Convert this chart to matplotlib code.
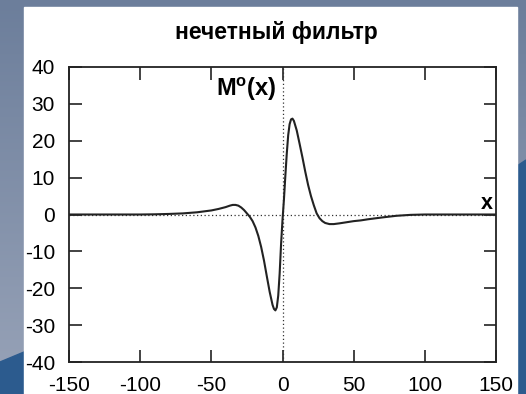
import matplotlib
matplotlib.use("Agg")
import matplotlib.pyplot as plt
from matplotlib.patches import Rectangle, Polygon
import numpy as np

plt.rcParams["axes.unicode_minus"] = False
plt.rcParams["mathtext.fontset"] = "custom"
plt.rcParams["mathtext.rm"] = "Liberation Sans"
plt.rcParams["mathtext.bf"] = "Liberation Sans:bold"

# values
x_vals = [-150, -120, -100, -90, -80, -70, -60, -50, -45, -40, -37, -35, -33, -31,
          -29, -27, -25, -23, -21, -19, -17, -15, -13, -11, -9, -7, -6, -5, -4,
          -3, -2, -1, 0, 1, 2, 3, 4, 5, 6, 7, 8, 10, 12, 14, 16, 18, 20, 22,
          24, 26, 28, 30, 33, 36, 40, 45, 50, 55, 60, 70, 80, 90, 100, 120, 150]
y_vals = [0, 0, 0, 0.05, 0.15, 0.3, 0.6, 1.1, 1.5, 2.0, 2.4, 2.6, 2.6, 2.4,
          1.9, 1.2, 0.3, -0.6, -1.8, -3.5, -5.8, -8.8, -12.5, -16.8, -21.0, -24.5, -25.6, -26.0, -25.2,
          -22.0, -16.0, -8.0, -1.5, 4.0, 10.5, 16.5, 21.5, 24.5, 25.8, 26.0, 25.4, 22.8, 19.2, 15.5, 11.6, 8.0, 5.0, 2.5,
          0.3, -1.0, -1.8, -2.3, -2.6, -2.6, -2.4, -2.1, -1.8, -1.6, -1.3, -0.8, -0.35, -0.1, 0, 0, 0]

x_ticks = [-150, -100, -50, 0, 50, 100, 150]
y_ticks = [-40, -30, -20, -10, 0, 10, 20, 30, 40]
title = "нечетный фильтр"

W, H = 526, 394
fig = plt.figure(figsize=(W / 100, H / 100), dpi=100)
fig.patch.set_facecolor("#6e809d")

# slide background
bg = fig.add_axes([0, 0, 1, 1], zorder=-10)
bg.set_axis_off()
grad = np.linspace(0, 1, 256).reshape(-1, 1)
cmap = matplotlib.colors.LinearSegmentedColormap.from_list("bg", ["#6c7e9b", "#98a3b8"])
bg.imshow(grad, aspect="auto", cmap=cmap, extent=[0, W, H, 0])
bg.add_patch(Polygon([(0, 362), (24, 352), (24, H), (0, H)], color="#2c5b8e"))
bg.add_patch(Polygon([(517, 166), (W, 160), (W, H), (517, H)], color="#2c5b8e"))
bg.add_patch(Rectangle((24, 7), 493, H - 7, color="white"))
bg.set_xlim(0, W)
bg.set_ylim(H, 0)

ax = fig.add_axes([69 / W, (H - 362) / H, (496 - 69) / W, (362 - 67) / H])
ax.set_facecolor("white")
ax.axhline(0, color="#333333", lw=0.9, ls=(0, (1, 2)))
ax.axvline(0, color="#333333", lw=0.9, ls=(0, (1, 2)))
ax.plot(x_vals, y_vals, color="#222222", lw=1.5)

ax.set_xlim(-150, 150)
ax.set_ylim(-40, 40)
ax.set_xticks(x_ticks)
ax.set_yticks(y_ticks)
ax.tick_params(direction="in", length=9, width=1.2, top=True, right=True,
               labelsize=15, colors="#222222", labelcolor="black")
for lab in ax.get_xticklabels() + ax.get_yticklabels():
    lab.set_family("Liberation Sans")
ax.tick_params(axis="x", pad=10)
ax.tick_params(axis="y", pad=10)
for s in ax.spines.values():
    s.set_linewidth(1.3)
    s.set_color("#222222")

ax.text(-4.0, 34, r"M$^\mathbf{o}$(x)", ha="right", va="center", fontsize=17,
        fontweight="bold", family="Liberation Sans")
ax.text(143.3, 3.1, "x", ha="center", va="center", fontsize=15.5,
        fontweight="bold", family="Liberation Sans")

fig.text(276 / W, 1 - 33 / H, title, ha="center", va="center", fontsize=16.5,
         fontweight="bold", family="Liberation Sans")

fig.savefig("out.png", dpi=100, facecolor=fig.get_facecolor())
